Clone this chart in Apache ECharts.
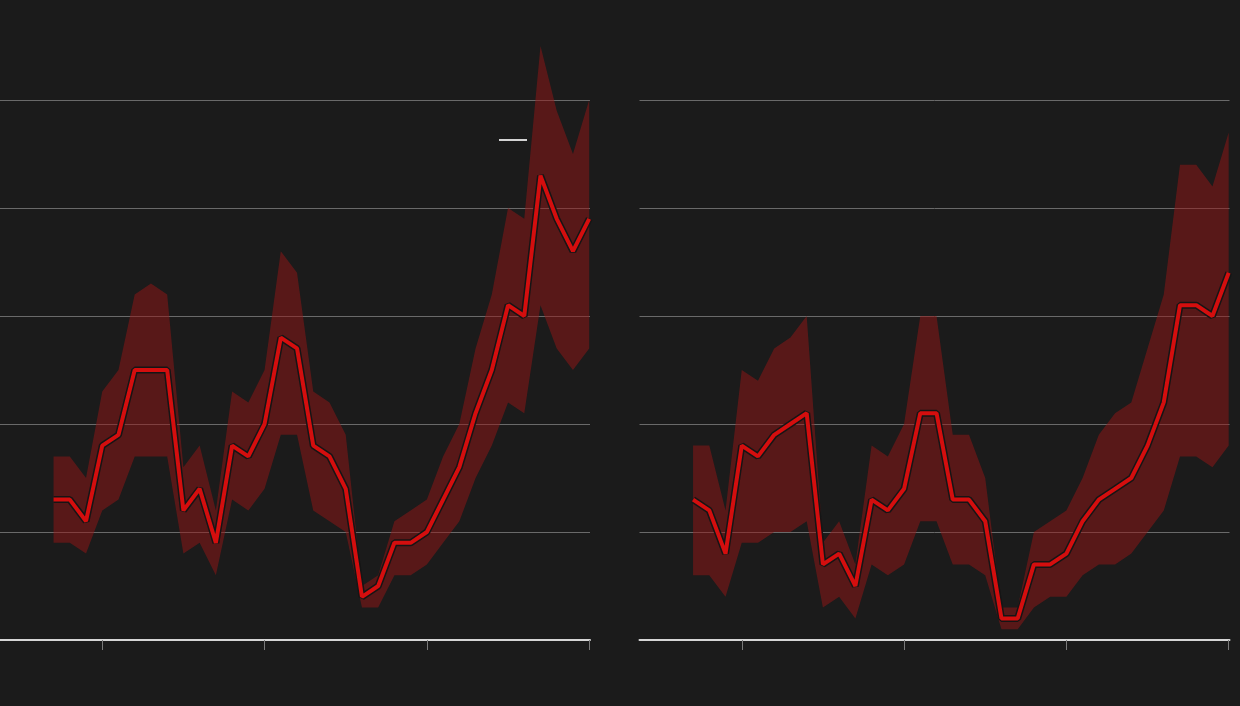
<!DOCTYPE html>
<html>
<head>
<meta charset="utf-8">
<script src="https://cdn.jsdelivr.net/npm/echarts@6.0.0/dist/echarts.min.js"></script>
<style>
  html, body { margin: 0; padding: 0; background: #1b1b1b; }
  #chart { width: 1240px; height: 706px; }
</style>
</head>
<body>
<div id="chart"></div>
<script>
// one point per year, 1987 → 2020
const years = Array.from({ length: 34 }, (_, i) => 1987 + i);
const tickYears = [1990, 2000, 2010, 2020];

const leftLine  = [1.3, 1.3, 1.1, 1.8, 1.9, 2.5, 2.5, 2.5, 1.2, 1.4, 0.9, 1.8, 1.7, 2.0, 2.8, 2.7, 1.8, 1.7, 1.4, 0.4, 0.5, 0.9, 0.9, 1.0, 1.3, 1.6, 2.1, 2.5, 3.1, 3.0, 4.3, 3.9, 3.6, 3.9];
const leftUpper = [1.7, 1.7, 1.5, 2.3, 2.5, 3.2, 3.3, 3.2, 1.6, 1.8, 1.2, 2.3, 2.2, 2.5, 3.6, 3.4, 2.3, 2.2, 1.9, 0.5, 0.6, 1.1, 1.2, 1.3, 1.7, 2.0, 2.7, 3.2, 4.0, 3.9, 5.5, 4.9, 4.5, 5.0];
const leftLower = [0.9, 0.9, 0.8, 1.2, 1.3, 1.7, 1.7, 1.7, 0.8, 0.9, 0.6, 1.3, 1.2, 1.4, 1.9, 1.9, 1.2, 1.1, 1.0, 0.3, 0.3, 0.6, 0.6, 0.7, 0.9, 1.1, 1.5, 1.8, 2.2, 2.1, 3.1, 2.7, 2.5, 2.7];

const rightLine  = [1.3, 1.2, 0.8, 1.8, 1.7, 1.9, 2.0, 2.1, 0.7, 0.8, 0.5, 1.3, 1.2, 1.4, 2.1, 2.1, 1.3, 1.3, 1.1, 0.2, 0.2, 0.7, 0.7, 0.8, 1.1, 1.3, 1.4, 1.5, 1.8, 2.2, 3.1, 3.1, 3.0, 3.4];
const rightUpper = [1.8, 1.8, 1.2, 2.5, 2.4, 2.7, 2.8, 3.0, 0.9, 1.1, 0.7, 1.8, 1.7, 2.0, 3.0, 3.0, 1.9, 1.9, 1.5, 0.3, 0.3, 1.0, 1.1, 1.2, 1.5, 1.9, 2.1, 2.2, 2.7, 3.2, 4.4, 4.4, 4.2, 4.7];
const rightLower = [0.6, 0.6, 0.4, 0.9, 0.9, 1.0, 1.0, 1.1, 0.3, 0.4, 0.2, 0.7, 0.6, 0.7, 1.1, 1.1, 0.7, 0.7, 0.6, 0.1, 0.1, 0.3, 0.4, 0.4, 0.6, 0.7, 0.7, 0.8, 1.0, 1.2, 1.7, 1.7, 1.6, 1.8];

const bandColor = 'rgba(150, 22, 22, 0.5)';
const lineColor = '#d40e0e';

const xAxisFor = (gridIndex) => ({
    type: 'value',
    gridIndex,
    min: 1983.7,
    max: 2020.05,
    offset: 1,
    axisLine: { lineStyle: { color: '#d6d6d6', width: 2 } },
    axisTick: { show: true, length: 10, customValues: tickYears, lineStyle: { color: '#7a7a7a', width: 1 } },
    axisLabel: { show: false, customValues: tickYears },
    splitLine: { show: false },
});

const yAxisFor = (gridIndex) => ({
    type: 'value',
    gridIndex,
    min: 0,
    max: 5.9,
    interval: 1,
    axisLine: { show: false },
    axisTick: { show: false },
    axisLabel: { show: false },
    splitLine: { showMaxLine: false, lineStyle: { color: '#6a6a6a', width: 1 } },
});

// confidence band as one polygon, projected through the axes
const band = (idx, upper, lower) => ({
    type: 'custom',
    xAxisIndex: idx,
    yAxisIndex: idx,
    silent: true,
    z: 1,
    data: [[years[0], lower[0]]],
    renderItem: (params, api) => {
        const top = years.map((y, i) => api.coord([y, upper[i]]));
        const bottom = years.map((y, i) => api.coord([y, lower[i]])).reverse();
        return {
            type: 'polygon',
            shape: { points: top.concat(bottom) },
            style: { fill: bandColor },
        };
    },
});

const line = (idx, name, values, color, width, z) => ({
    name,
    type: 'line',
    xAxisIndex: idx,
    yAxisIndex: idx,
    data: years.map((y, i) => [y, values[i]]),
    showSymbol: false,
    symbol: 'none',
    silent: true,
    z,
    lineStyle: { color, width },
});

const chart = echarts.init(document.getElementById('chart'), null, { renderer: 'canvas' });

chart.setOption({
    backgroundColor: '#1b1b1b',
    animation: false,
    grid: [
        { left: 0, width: 590, top: 2.8, bottom: 66 },
        { left: 639.5, width: 590, top: 2.8, bottom: 66 },
    ],
    xAxis: [xAxisFor(0), xAxisFor(1)],
    yAxis: [yAxisFor(0), yAxisFor(1)],
    legend: {
        left: 499,
        top: 139,
        padding: 0,
        itemWidth: 28,
        itemHeight: 2,
        selectedMode: false,
        formatter: () => '',
        data: [{ name: 'A', icon: 'rect', itemStyle: { color: '#d4d4d4', borderWidth: 0 } }],
    },
    series: [
        band(0, leftUpper, leftLower),
        line(0, 'A-outline', leftLine, '#151515', 7, 2),
        line(0, 'A', leftLine, lineColor, 4, 3),
        band(1, rightUpper, rightLower),
        line(1, 'B-outline', rightLine, '#151515', 7, 2),
        line(1, 'B', rightLine, lineColor, 4, 3),
    ],
});

window.addEventListener('resize', () => chart.resize());
</script>
</body>
</html>
